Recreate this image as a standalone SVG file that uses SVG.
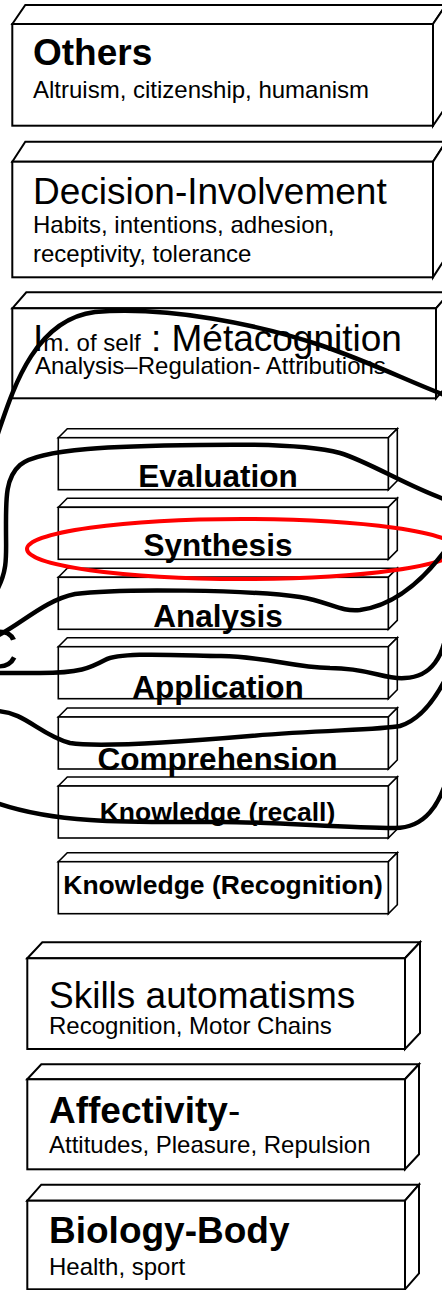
<svg xmlns="http://www.w3.org/2000/svg" xmlns:xlink="http://www.w3.org/1999/xlink" width="442" height="1290" viewBox="0 0 442 1290">
  <style>
    .box { fill: #ffffff; stroke: #000000; stroke-width: 2; stroke-linejoin: miter; }
    .slabline { fill: #ffffff; stroke: #000000; stroke-width: 1.6; }
    text { font-family: "Liberation Sans", Arial, Helvetica, sans-serif; fill: #000000; }
    .title { font-size: 37px; }
    .bold { font-weight: bold; }
    .sub { font-size: 24px; }
    .level { font-size: 31.5px; font-weight: bold; text-anchor: middle; }
    .level-sm { font-size: 26.5px; font-weight: bold; text-anchor: middle; }
    .loop { fill: none; stroke: #000000; stroke-width: 4.5; stroke-linecap: round; stroke-linejoin: round; }
    .ring { fill: none; stroke: #ff0000; stroke-width: 4; }
  </style>
  <defs>
    <!-- thin slab used for each cognitive level -->
    <g id="slab">
      <path class="slabline" d="M0,0 L9,-9 H339 L330,0 Z"/>
      <path class="slabline" d="M330,0 L339,-9 V43 L330,52 Z"/>
      <rect class="slabline" x="0" y="0" width="330" height="52"/>
    </g>
  </defs>

  <rect x="0" y="0" width="442" height="1290" fill="#ffffff"/>

  <!-- upper blocks -->
  <g id="others">
    <path class="box" d="M12.3,24 L25.3,5 H446 L433,24 Z"/>
    <path class="box" d="M433,24 L446,5 V106.7 L433,125.7 Z"/>
    <rect class="box" x="12.3" y="24" width="420.7" height="101.7"/>
    <text x="33" y="65" class="title bold">Others</text>
    <text x="33" y="98" class="sub">Altruism, citizenship, humanism</text>
  </g>

  <g id="decision">
    <path class="box" d="M12.3,161.7 L25.3,141.7 H446 L433,161.7 Z"/>
    <path class="box" d="M433,161.7 L446,141.7 V257.3 L433,277.3 Z"/>
    <rect class="box" x="12.3" y="161.7" width="420.7" height="115.6"/>
    <text x="33" y="204" class="title">Decision-Involvement</text>
    <text x="33" y="233" class="sub">Habits, intentions, adhesion,</text>
    <text x="33" y="262" class="sub">receptivity, tolerance</text>
  </g>

  <g id="metacognition">
    <path class="box" d="M12.3,308.3 L26.3,292.3 H450 L436,308.3 Z"/>
    <path class="box" d="M436,308.3 L450,292.3 V382.3 L436,398.3 Z"/>
    <rect class="box" x="12.3" y="308.3" width="423.7" height="90"/>
    <text x="33" y="351" class="title"><tspan>I</tspan><tspan font-size="24">m. of self</tspan><tspan> : Métacognition</tspan></text>
    <text x="35" y="374" class="sub">Analysis–Regulation- Attributions</text>
  </g>

  <!-- cognitive levels -->
  <g id="evaluation">
    <use xlink:href="#slab" transform="translate(58.3,437.7)"/>
    <text x="218" y="487" class="level">Evaluation</text>
  </g>
  <g id="synthesis">
    <use xlink:href="#slab" transform="translate(58.3,507.3)"/>
    <text x="218" y="556" class="level">Synthesis</text>
  </g>
  <g id="analysis">
    <use xlink:href="#slab" transform="translate(58.3,577.3)"/>
    <text x="218" y="627" class="level">Analysis</text>
  </g>
  <g id="application">
    <use xlink:href="#slab" transform="translate(58.3,646.7)"/>
    <text x="218" y="698" class="level">Application</text>
  </g>
  <g id="comprehension">
    <use xlink:href="#slab" transform="translate(58.3,717)"/>
    <text x="217.5" y="770" class="level">Comprehension</text>
  </g>
  <g id="knowledge-recall">
    <use xlink:href="#slab" transform="translate(58.3,786)"/>
    <text x="217.5" y="821" class="level-sm">Knowledge (recall)</text>
  </g>
  <g id="knowledge-recognition">
    <use xlink:href="#slab" transform="translate(58.3,861.7)"/>
    <text x="223" y="894" class="level-sm">Knowledge (Recognition)</text>
  </g>

  <!-- lower blocks -->
  <g id="skills">
    <path class="box" d="M27.3,958.3 L42.3,942.3 H420 L405,958.3 Z"/>
    <path class="box" d="M405,958.3 L420,942.3 V1033 L405,1049 Z"/>
    <rect class="box" x="27.3" y="958.3" width="377.7" height="90.7"/>
    <text x="49" y="1008" class="title">Skills automatisms</text>
    <text x="49" y="1033.5" class="sub">Recognition, Motor Chains</text>
  </g>

  <g id="affectivity">
    <path class="box" d="M27.3,1079.3 L41.3,1064.3 H419 L405,1079.3 Z"/>
    <path class="box" d="M405,1079.3 L419,1064.3 V1154.3 L405,1169.3 Z"/>
    <rect class="box" x="27.3" y="1079.3" width="377.7" height="90"/>
    <text x="49" y="1122.7" class="title"><tspan class="bold">Affectivity</tspan>-</text>
    <text x="49" y="1153.3" class="sub">Attitudes, Pleasure, Repulsion</text>
  </g>

  <g id="biology">
    <path class="box" d="M27.3,1200.7 L41.3,1184.7 H419 L405,1200.7 Z"/>
    <path class="box" d="M405,1200.7 L419,1184.7 V1273.3 L405,1289.3 Z"/>
    <rect class="box" x="27.3" y="1200.7" width="377.7" height="88.6"/>
    <text x="49" y="1243.3" class="title bold">Biology-Body</text>
    <text x="49" y="1275" class="sub">Health, sport</text>
  </g>

  <!-- letter cut by the left edge -->
  <text x="-22" y="668" font-size="56">C</text>

  <!-- freehand marks -->
  <g id="connectors">
    <ellipse class="ring" cx="242" cy="549" rx="215" ry="30"/>
    <path class="loop" d="M-5,442 C10,400 30,320 95,312 C170,306 260,325 320,345 C370,362 410,382 447,396"/>
    <path class="loop" d="M447,500 C410,488 370,462 340,453 C310,445 250,444 200,445 C120,446 40,448 20,465 C5,478 6,500 6,530 C6,555 8,570 -3,590"/>
    <path class="loop" d="M-3,636 C20,625 45,600 75,594 C120,588 250,590 300,597 C330,602 340,612 360,610 C390,606 420,585 447,548"/>
    <path class="loop" d="M447,628 C444,655 432,677 405,678 C385,680 370,668 330,668 C290,667 270,657 221,656 C170,655 120,652 105,660 C90,668 80,673 40,673 L-3,673"/>
    <path class="loop" d="M-3,711 C25,712 40,735 70,743 C100,748 180,742 250,736 C320,730 380,730 400,726 C420,720 435,700 447,676"/>
    <path class="loop" d="M449,772 C440,805 425,828 395,828 C340,828 280,822 221,822 C140,822 60,825 -3,803"/>
  </g>
</svg>
